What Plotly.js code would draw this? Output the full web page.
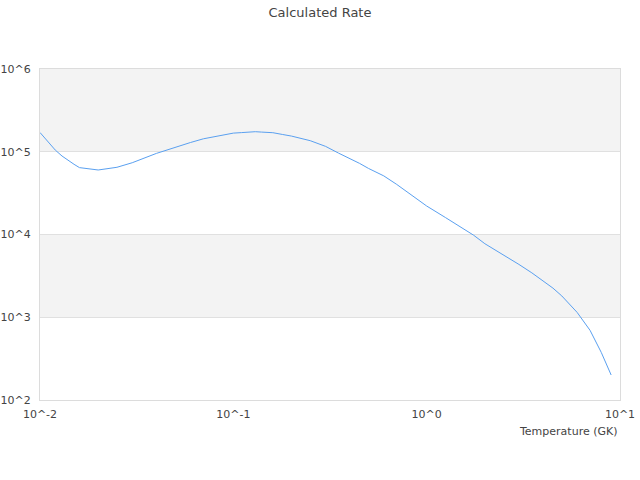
<!DOCTYPE html>
<html>
<head>
<meta charset="utf-8">
<script src="https://cdn.plot.ly/plotly-3.0.1.min.js"></script>
<style>
  html, body { margin: 0; padding: 0; background: #fff; }
  #chart { width: 640px; height: 480px; }
</style>
</head>
<body>
<div id="chart"></div>
<script>
// temperature grid (GK) and rate values
let temps = [
  0.01, 0.011, 0.012, 0.013, 0.014, 0.015, 0.016, 0.018, 0.02, 0.025,
  0.03, 0.04, 0.05, 0.06, 0.07, 0.08, 0.09, 0.1, 0.11, 0.12,
  0.13, 0.14, 0.15, 0.16, 0.18, 0.2, 0.25, 0.3, 0.35, 0.4,
  0.45, 0.5, 0.6, 0.7, 0.8, 0.9, 1.0, 1.25, 1.5, 1.75,
  2.0, 2.5, 3.0, 3.5, 4.0, 4.5, 5.0, 6.0, 7.0, 8.0, 9.0
];
let rates = [
  1.708e5, 1.301e5, 1.047e5, 8.88e4, 7.84e4, 7.05e4, 6.43e4, 6.15e4, 6.02e4, 6.49e4,
  7.37e4, 9.55e4, 1.138e5, 1.293e5, 1.434e5, 1.529e5, 1.612e5, 1.680e5, 1.703e5, 1.733e5,
  1.747e5, 1.728e5, 1.713e5, 1.699e5, 1.616e5, 1.546e5, 1.360e5, 1.161e5, 9.63e4, 8.31e4,
  7.23e4, 6.29e4, 5.11e4, 4.03e4, 3.22e4, 2.64e4, 2.21e4, 1.605e4, 1.229e4, 9.80e3,
  7.74e3, 5.67e3, 4.35e3, 3.44e3, 2.74e3, 2.25e3, 1.81e3, 1.145e3, 695, 376, 200.5
];

let xTickVals = [0.01, 0.1, 1, 10];
let xTickText = ["10^-2", "10^-1", "10^0", "10^1"];
let yTickVals = [1e2, 1e3, 1e4, 1e5, 1e6];
let yTickText = ["10^2", "10^3", "10^4", "10^5", "10^6"];

// alternating grey bands, every other decade from the top
let bands = [];
for (let i = yTickVals.length - 1; i > 0; i -= 2) {
  bands.push({
    type: "rect", xref: "paper", yref: "y",
    x0: 0, x1: 1, y0: yTickVals[i - 1], y1: yTickVals[i],
    fillcolor: "#f3f3f3", line: { width: 0 }, layer: "below"
  });
}

let data = [
  {
    x: temps,
    y: rates,
    type: "scatter",
    mode: "lines",
    line: { color: "#5aa0f0", width: 1 },
    hoverinfo: "x+y"
  }
];

let layout = {
  width: 640,
  height: 480,
  margin: { l: 40, r: 20, t: 69, b: 80 },
  paper_bgcolor: "#fff",
  plot_bgcolor: "#fff",
  font: { family: "DejaVu Sans, sans-serif", size: 11, color: "#444" },
  title: { text: "Calculated Rate", font: { size: 13, color: "#444" }, x: 0.5, y: 0.975, yanchor: "middle" },
  showlegend: false,
  shapes: bands,
  xaxis: {
    type: "log",
    range: [-2, 1],
    tickvals: xTickVals,
    ticktext: xTickText,
    showgrid: false,
    zeroline: false,
    showline: true,
    mirror: true,
    linecolor: "#dcdcdc",
    linewidth: 1,
    ticks: "",
    ticklabelstandoff: 4,
    tickfont: { size: 11, color: "#444" }
  },
  yaxis: {
    type: "log",
    range: [2, 6],
    tickvals: yTickVals,
    ticktext: yTickText,
    showgrid: true,
    gridcolor: "#e0e0e0",
    zeroline: false,
    showline: true,
    mirror: true,
    linecolor: "#dcdcdc",
    linewidth: 1,
    ticks: "",
    ticklabelstandoff: 6,
    tickfont: { size: 11, color: "#444" }
  },
  annotations: [
    {
      text: "Temperature (GK)",
      xref: "paper", yref: "paper",
      x: 1, y: -0.094,
      xanchor: "right", yanchor: "middle",
      showarrow: false,
      font: { size: 11, color: "#444" }
    }
  ]
};

Plotly.newPlot("chart", data, layout, { displayModeBar: false, staticPlot: true });
</script>
</body>
</html>
